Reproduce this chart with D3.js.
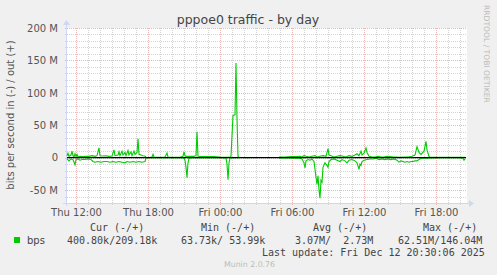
<!DOCTYPE html>
<html>
<head>
<meta charset="utf-8">
<script src="https://cdn.jsdelivr.net/npm/d3@7"></script>
<style>
  html, body { margin: 0; padding: 0; background: #f0f0f0; }
  text { font-family: "DejaVu Sans", sans-serif; }
  .mono { font-family: "DejaVu Sans Mono", monospace; white-space: pre; }
</style>
</head>
<body>
<div id="chart"></div>
<script>
// samples are 5 minute steps counted from Thu Dec 11 2025 11:15
const outSteps = [0,1,2,4,5,6,7,8,9,10,11,13,16,19,22,25,28,30,32,33,36,39,42,45,47,48,51,52,53,55,56,58,59,61,62,64,65,67,68,70,71,72,74,76,78,79,83,85,86,87,91,95,98,100,101,105,109,113,116,117,118,119,123,127,129,130,131,135,141,147,153,159,163,164,166,168,169,170,171,172,173,179,182,183,212,218,224,230,233,235,237,239,242,245,248,250,253,256,259,261,262,264,267,270,273,276,279,282,285,288,290,292,294,295,297,299,300,302,305,308,311,314,317,320,323,326,329,333,337,341,345,348,350,352,354,357,359,360,362,363,367,371,375,379,383,387,391,395,398];
const outMbps = [3,7,2,4,10,3,1,6,2,5,1,2,1.5,2,2,3,2,3,15,3,2.5,3,2,2.5,12,3,4,9,3,10,4,8,3,11,4,9,3,10,5,8,29,5,4,3,2.5,0.3,0.5,1,5,1,0.5,0.5,1,7,1,0.5,0.5,0.5,2,9,3,2,2,2,3,40,2,1.5,1.5,1.5,0.8,0.5,0.5,2,65,66,146.04,60,2,0.3,null,0.3,0.3,null,1,1,1.5,1.5,2,1,3,2,1,2,3,1,2,3,2,14,4,3,1,2,3,2,1,3,2,4,6,3,10,4,7,15,8,2,1,1,2,1,1,2,1.5,1,1,0.5,1,1,2,4,17,8,5,10,25,12,2,0.5,0.5,0.5,0.5,0.5,0.5,0.5,0.5,0.5,0.4];

const inSteps = [0,2,4,6,8,9,11,13,15,18,21,24,26,28,31,34,37,40,43,46,49,52,55,58,60,63,66,69,72,75,78,79,83,88,93,98,103,108,113,117,118,119,120,121,122,125,133,143,153,159,160,161,162,163,166,172,173,179,182,183,212,223,233,235,237,238,239,241,243,245,247,249,250,251,252,253,254,255,256,258,260,261,262,264,267,270,273,275,278,280,282,285,288,290,292,293,294,295,297,300,303,306,309,312,315,318,321,324,327,330,332,334,336,338,340,342,344,346,348,350,352,354,357,360,363,373,383,393,396,397,398];
const inMbps = [2,5,2,3,11,3,2,4,3,3,2,3,6,7,6,7,6,6,7,6,7,6,7,8,6,7,6,7,6,7,6,0.5,0.3,0.3,0.3,0.3,0.3,0.3,0.3,0.5,4,15,31,8,1,0.3,0.3,0.3,0.3,0.5,10,34,8,0.5,0.3,0.3,null,0.3,0.3,null,0.5,0.5,1,2,8,16,5,3,4,2,6,30,41,28,50,62.51,35,38,15,8,12,15,6,3,2,4,6,3,5,8,4,3,5,8,18,10,12,6,4,3,2,2,1,3,2,3,2,3,2,4,7,5,6,7,6,7,6,6,5,5,3,1,1,1,0.5,0.3,0.3,0.3,1,4,2];

const yTicks = [-50, 0, 50, 100, 150, 200];
const legendHeads = ['Cur (-/+)', 'Min (-/+)', 'Avg (-/+)', 'Max (-/+)'];
const legendVals = ['400.80k/209.18k', '63.73k/ 53.99k', '3.07M/  2.73M', '62.51M/146.04M'];

const W = 497, H = 275;
const PL = 67, PR = 467, PT = 28, PB = 203;
const start = new Date(2025, 11, 11, 11, 15);
const stepDate = s => new Date(start.getTime() + s * 5 * 60000);

const svg = d3.select('#chart').append('svg')
    .attr('width', W).attr('height', H);

svg.append('rect').attr('width', W).attr('height', H).attr('fill', '#f0f0f0');
svg.append('rect').attr('x', PL).attr('y', PT).attr('width', PR - PL).attr('height', PB - PT).attr('fill', '#fff');

const x = d3.scaleTime().domain([start, stepDate(400)]).range([PL, PR]);
const y = d3.scaleLinear().domain([-70, 200]).range([PB, PT]);

// grid
const minorCol = '#d4d4d4', majorCol = '#ebb6b6';
const minorY = d3.range(-70, 201, 10).filter(v => v % 50 !== 0);
svg.append('g').selectAll('line').data(minorY).join('line')
    .attr('x1', PL - 2).attr('x2', PR).attr('y1', d => Math.round(y(d)) + 0.5).attr('y2', d => Math.round(y(d)) + 0.5)
    .attr('stroke', minorCol).attr('stroke-dasharray', '1,1');
const hours = d3.timeHour.range(start, stepDate(400));
svg.append('g').selectAll('line').data(hours.filter(d => d.getHours() % 6 !== 0)).join('line')
    .attr('x1', d => Math.round(x(d)) + 0.5).attr('x2', d => Math.round(x(d)) + 0.5).attr('y1', PT).attr('y2', PB + 2)
    .attr('stroke', minorCol).attr('stroke-dasharray', '1,1');
svg.append('g').selectAll('line').data(yTicks).join('line')
    .attr('x1', PL - 2).attr('x2', PR).attr('y1', d => Math.round(y(d)) + 0.5).attr('y2', d => Math.round(y(d)) + 0.5)
    .attr('stroke', majorCol).attr('stroke-dasharray', '1,1');
svg.append('g').selectAll('line').data(hours.filter(d => d.getHours() % 6 === 0)).join('line')
    .attr('x1', d => Math.round(x(d)) + 0.5).attr('x2', d => Math.round(x(d)) + 0.5).attr('y1', PT).attr('y2', PB + 2)
    .attr('stroke', majorCol).attr('stroke-dasharray', '1,1');

// axes lines + arrows
const axisCol = '#cfd6f8';
svg.append('line').attr('x1', PL - 4).attr('x2', PR + 3).attr('y1', PB + 0.5).attr('y2', PB + 0.5).attr('stroke', axisCol);
svg.append('path').attr('d', `M${PR + 2},${PB - 3} L${PR + 7},${PB + 0.5} L${PR + 2},${PB + 4} Z`).attr('fill', axisCol);
svg.append('line').attr('x1', PL - 0.5).attr('x2', PL - 0.5).attr('y1', PB + 3).attr('y2', PT - 4).attr('stroke', axisCol);
svg.append('path').attr('d', `M${PL - 4},${PT - 3} L${PL - 0.5},${PT - 8} L${PL + 3},${PT - 3} Z`).attr('fill', axisCol);

// tick labels
const xAxis = d3.axisBottom(x).ticks(d3.timeHour.every(6)).tickFormat(d3.timeFormat('%a %H:%M')).tickSize(0);
const gx = svg.append('g').attr('transform', `translate(0,${PB + 3})`).call(xAxis);
gx.select('.domain').remove();
gx.selectAll('text').attr('font-family', 'DejaVu Sans').attr('font-size', 10).attr('fill', '#555');

const yAxis = d3.axisLeft(y).tickValues(yTicks).tickFormat(d => d === 0 ? '0' : d + ' M').tickSize(0);
const gy = svg.append('g').attr('transform', `translate(${PL - 6},0)`).call(yAxis);
gy.select('.domain').remove();
gy.selectAll('text').attr('font-family', 'DejaVu Sans').attr('font-size', 10).attr('fill', '#555');

// series
const line = d3.line()
    .defined(d => d.v !== null)
    .x(d => x(stepDate(d.s)))
    .y(d => y(d.v));
const outData = outSteps.map((s, i) => ({ s, v: outMbps[i] }));
const inData = inSteps.map((s, i) => ({ s, v: inMbps[i] === null ? null : -inMbps[i] }));

svg.append('path').datum(inData).attr('d', line).attr('fill', 'none').attr('stroke', '#00cc00').attr('stroke-width', 1.1);
svg.append('path').datum(outData).attr('d', line).attr('fill', 'none').attr('stroke', '#00cc00').attr('stroke-width', 1.1);
svg.append('line').attr('x1', PL).attr('x2', x(stepDate(399))).attr('y1', y(0)).attr('y2', y(0))
    .attr('stroke', '#000').attr('stroke-width', 1.4);

// titles
svg.append('text').attr('x', 248).attr('y', 24).attr('text-anchor', 'middle')
    .attr('font-size', 12.5).attr('fill', '#444').text('pppoe0 traffic - by day');
svg.append('text').attr('transform', `translate(14,115) rotate(-90)`).attr('text-anchor', 'middle')
    .attr('font-size', 10).attr('fill', '#555').text('bits per second in (-) / out (+)');
svg.append('text').attr('transform', `translate(484,5) rotate(90)`).attr('text-anchor', 'start')
    .attr('font-size', 7.6).attr('fill', '#bbb').text('RRDTOOL / TOBI OETIKER');

// legend
const headX = [90, 201, 313, 423];
const valX = [67, 181, 295, 398];
svg.append('g').selectAll('text').data(legendHeads).join('text')
    .attr('class', 'mono').attr('x', (d, i) => headX[i]).attr('y', 231)
    .attr('font-size', 10).attr('fill', '#444').text(d => d);
svg.append('g').selectAll('text').data(legendVals).join('text')
    .attr('class', 'mono').attr('x', (d, i) => valX[i]).attr('y', 244)
    .attr('font-size', 10).attr('fill', '#444').text(d => d);
svg.append('rect').attr('x', 14).attr('y', 237).attr('width', 6).attr('height', 6).attr('fill', '#00cc00');
svg.append('text').attr('x', 27).attr('y', 244).attr('font-size', 10).attr('fill', '#444').text('bps');
svg.append('text').attr('class', 'mono').attr('x', 262).attr('y', 255.5)
    .attr('font-size', 10).attr('fill', '#444').text('Last update: Fri Dec 12 20:30:06 2025');
svg.append('text').attr('x', 224).attr('y', 266.5)
    .attr('font-size', 7.8).attr('fill', '#bbb').text('Munin 2.0.76');
</script>
</body>
</html>
